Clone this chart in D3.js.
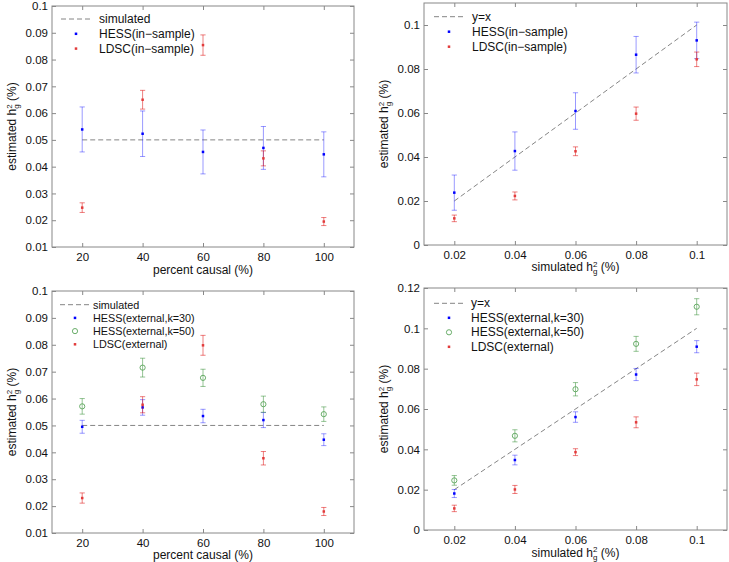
<!DOCTYPE html>
<html>
<head>
<meta charset="utf-8">
<script src="https://cdn.jsdelivr.net/npm/d3@7"></script>
<style>
  body { margin: 0; background: #fff; }
  svg { display: block; font-family: "Liberation Sans", Arial, Helvetica, sans-serif; }
</style>
</head>
<body>
<svg id="chart" width="729" height="562"></svg>
<script>
// x 값
const causalPct = [20, 40, 60, 80, 100];
const simH2 = [0.02, 0.04, 0.06, 0.08, 0.1];

// 눈금 라벨
const pctTicks = [20, 40, 60, 80, 100];
const pctTickLabels = ["20", "40", "60", "80", "100"];
const h2Ticks = [0.02, 0.04, 0.06, 0.08, 0.1];
const h2TickLabels = ["0.02", "0.04", "0.06", "0.08", "0.1"];
const yTicksA = [0.01, 0.02, 0.03, 0.04, 0.05, 0.06, 0.07, 0.08, 0.09, 0.1];
const yTickLabelsA = ["0.01", "0.02", "0.03", "0.04", "0.05", "0.06", "0.07", "0.08", "0.09", "0.1"];
const yTicksB = [0, 0.02, 0.04, 0.06, 0.08, 0.1];
const yTickLabelsB = ["0", "0.02", "0.04", "0.06", "0.08", "0.1"];
const yTicksD = [0, 0.02, 0.04, 0.06, 0.08, 0.1, 0.12];
const yTickLabelsD = ["0", "0.02", "0.04", "0.06", "0.08", "0.1", "0.12"];

// 기준선
const simulatedX = [20, 100];
const simulatedY = [0.05, 0.05];
const identityX = [0.02, 0.1];
const identityY = [0.02, 0.1];

// (A) in-sample, percent causal
const hessInPctMean = [0.0539, 0.0523, 0.0455, 0.0470, 0.0446];
const hessInPctErr = [0.0084, 0.0085, 0.0082, 0.0080, 0.0084];
const ldscInPctMean = [0.0247, 0.0650, 0.0854, 0.0431, 0.0195];
const ldscInPctErr = [0.0018, 0.0035, 0.0038, 0.0028, 0.0015];

// (B) in-sample, simulated h2
const hessInH2Mean = [0.0238, 0.0427, 0.0609, 0.0865, 0.0930];
const hessInH2Err = [0.0080, 0.0087, 0.0083, 0.0083, 0.0083];
const ldscInH2Mean = [0.0121, 0.0223, 0.0426, 0.0597, 0.0844];
const ldscInH2Err = [0.0015, 0.0018, 0.0020, 0.0030, 0.0033];

// (C) external, percent causal
const hess30PctMean = [0.0495, 0.0567, 0.0535, 0.0520, 0.0447];
const hess30PctErr = [0.0024, 0.0029, 0.0025, 0.0028, 0.0022];
const hess50PctMean = [0.0571, 0.0715, 0.0677, 0.0579, 0.0542];
const hess50PctErr = [0.0029, 0.0035, 0.0032, 0.0030, 0.0027];
const ldscExPctMean = [0.0230, 0.0577, 0.0798, 0.0378, 0.0180];
const ldscExPctErr = [0.0019, 0.0030, 0.0037, 0.0025, 0.0015];

// (D) external, simulated h2
const hess30H2Mean = [0.0181, 0.0347, 0.0560, 0.0771, 0.0909];
const hess30H2Err = [0.0020, 0.0024, 0.0026, 0.0030, 0.0030];
const hess50H2Mean = [0.0246, 0.0467, 0.0698, 0.0923, 0.1107];
const hess50H2Err = [0.0024, 0.0030, 0.0033, 0.0037, 0.0040];
const ldscExH2Mean = [0.0107, 0.0201, 0.0386, 0.0534, 0.0747];
const ldscExH2Err = [0.0016, 0.0020, 0.0017, 0.0027, 0.0031];

const svg = d3.select("#chart");

const boxColor = "#888";
const styles = {
  hess:   { bar: "#0000ff", barOpacity: 0.4, marker: "dot", fill: "#0000ff" },
  hess50: { bar: "#2e8b2e", barOpacity: 0.5, marker: "circle", fill: "#5aa55a" },
  ldsc:   { bar: "#dd0000", barOpacity: 0.5, marker: "dot", fill: "#e23b3b" }
};

function series(xs, means, errs, style, label) {
  return { points: xs.map((v, i) => ({ x: v, m: means[i], e: errs[i] })), style: styles[style], label: label };
}

// h_g^2 라벨 (위첨자 2, 아래첨자 g 겹쳐서)
function h2Label(text, before) {
  text.append("tspan").text(before + " h");
  text.append("tspan").attr("font-size", 8).attr("dy", -4.5).text("2");
  text.append("tspan").attr("font-size", 8).attr("dx", -4.45).attr("dy", 7.5).text("g");
  text.append("tspan").attr("dy", -3).text(" (%)");
}

function drawMarker(sel, kind, fill, cx, cy) {
  if (kind === "circle") {
    sel.append("circle").attr("cx", cx).attr("cy", cy).attr("r", 2.6)
      .attr("fill", "none").attr("stroke", fill).attr("stroke-width", 0.9);
  } else {
    sel.append("rect").attr("x", cx - 1.25).attr("y", cy - 1.25)
      .attr("width", 2.5).attr("height", 2.5).attr("fill", fill);
  }
}

function drawPanel(p) {
  const g = svg.append("g");
  const b = p.box;
  const x = d3.scaleLinear().domain(p.xDomain).range([b.x0, b.x1]);
  const y = d3.scaleLinear().domain(p.yDomain).range([b.y1, b.y0]);

  // 축 (눈금 안쪽)
  const axes = [
    { axis: d3.axisBottom(x).tickValues(p.xTicks).tickFormat((d, i) => p.xTickLabels[i]).tickPadding(6), t: `translate(0,${b.y1})` },
    { axis: d3.axisTop(x).tickValues(p.xTicks).tickFormat(""), t: `translate(0,${b.y0})` },
    { axis: d3.axisLeft(y).tickValues(p.yTicks).tickFormat((d, i) => p.yTickLabels[i]).tickPadding(4), t: `translate(${b.x0},0)` },
    { axis: d3.axisRight(y).tickValues(p.yTicks).tickFormat(""), t: `translate(${b.x1},0)` }
  ];
  axes.forEach(a => {
    const ag = g.append("g").attr("transform", a.t)
      .call(a.axis.tickSize(-4).tickSizeOuter(0));
    ag.select(".domain").remove();
    ag.selectAll(".tick line").attr("stroke", boxColor);
    ag.selectAll(".tick text").attr("font-size", 11.5).attr("fill", "#111")
      .attr("font-family", "Liberation Sans, Arial, sans-serif");
  });

  g.append("rect")
    .attr("x", b.x0).attr("y", b.y0)
    .attr("width", b.x1 - b.x0).attr("height", b.y1 - b.y0)
    .attr("fill", "none").attr("stroke", boxColor).attr("stroke-width", 1);

  // 기준선
  const line = d3.line().x(d => x(d[0])).y(d => y(d[1]));
  g.append("path")
    .datum(p.refX.map((v, i) => [v, p.refY[i]]))
    .attr("d", line)
    .attr("fill", "none")
    .attr("stroke", "#777")
    .attr("stroke-width", 0.9)
    .attr("stroke-dasharray", "5,3");

  // 오차막대 + 점
  p.series.forEach(s => {
    const sg = g.append("g");
    const bars = sg.append("g")
      .attr("stroke", s.style.bar)
      .attr("stroke-opacity", s.style.barOpacity)
      .attr("stroke-width", 1);
    s.points.forEach(d => {
      const cx = x(d.x), yt = y(d.m + d.e), yb = y(d.m - d.e);
      bars.append("line").attr("x1", cx).attr("x2", cx).attr("y1", yt).attr("y2", yb);
      bars.append("line").attr("x1", cx - 2.6).attr("x2", cx + 2.6).attr("y1", yt).attr("y2", yt);
      bars.append("line").attr("x1", cx - 2.6).attr("x2", cx + 2.6).attr("y1", yb).attr("y2", yb);
    });
    s.points.forEach(d => drawMarker(sg, s.style.marker, s.style.fill, x(d.x), y(d.m)));
  });

  // 범례
  const L = p.legend;
  const lg = g.append("g").attr("font-size", L.size).attr("fill", "#111");
  lg.append("line")
    .attr("x1", L.lx).attr("x2", L.lx + 29).attr("y1", L.ly).attr("y2", L.ly)
    .attr("stroke", "#777").attr("stroke-width", 0.9).attr("stroke-dasharray", "5,3");
  lg.append("text").attr("x", L.tx).attr("y", L.ly + 4).text(p.refLabel);
  p.series.forEach((s, i) => {
    const ry = L.ly + L.dy * (i + 1);
    drawMarker(lg, s.style.marker, s.style.fill, L.lx + 15, ry);
    lg.append("text").attr("x", L.tx).attr("y", ry + 4).text(s.label);
  });

  // 축 라벨
  const xl = g.append("text")
    .attr("x", (b.x0 + b.x1) / 2).attr("y", p.xLabelY)
    .attr("text-anchor", "middle").attr("font-size", 12).attr("fill", "#111");
  if (p.xLabel) xl.text(p.xLabel); else h2Label(xl, "simulated");

  const yl = g.append("text")
    .attr("transform", `translate(${p.yLabelX},${(b.y0 + b.y1) / 2}) rotate(-90)`)
    .attr("text-anchor", "middle").attr("font-size", 12).attr("fill", "#111");
  h2Label(yl, "estimated");
}

drawPanel({
  box: { x0: 52, x1: 354, y0: 6, y1: 247 },
  xDomain: [10, 110], yDomain: [0.01, 0.1],
  xTicks: pctTicks, xTickLabels: pctTickLabels,
  yTicks: yTicksA, yTickLabels: yTickLabelsA,
  refX: simulatedX, refY: simulatedY, refLabel: "simulated",
  series: [
    series(causalPct, hessInPctMean, hessInPctErr, "hess", "HESS(in\u2212sample)"),
    series(causalPct, ldscInPctMean, ldscInPctErr, "ldsc", "LDSC(in\u2212sample)")
  ],
  legend: { lx: 61, tx: 99, ly: 19, dy: 14.8, size: 12 },
  xLabel: "percent causal (%)", xLabelY: 274, yLabelX: 16
});

drawPanel({
  box: { x0: 424, x1: 727, y0: 3, y1: 245 },
  xDomain: [0.01, 0.11], yDomain: [0, 0.11],
  xTicks: h2Ticks, xTickLabels: h2TickLabels,
  yTicks: yTicksB, yTickLabels: yTickLabelsB,
  refX: identityX, refY: identityY, refLabel: "y=x",
  series: [
    series(simH2, hessInH2Mean, hessInH2Err, "hess", "HESS(in\u2212sample)"),
    series(simH2, ldscInH2Mean, ldscInH2Err, "ldsc", "LDSC(in\u2212sample)")
  ],
  legend: { lx: 434, tx: 472, ly: 16.7, dy: 15, size: 12 },
  xLabel: null, xLabelY: 271, yLabelX: 388
});

drawPanel({
  box: { x0: 52, x1: 354, y0: 291, y1: 533 },
  xDomain: [10, 110], yDomain: [0.01, 0.1],
  xTicks: pctTicks, xTickLabels: pctTickLabels,
  yTicks: yTicksA, yTickLabels: yTickLabelsA,
  refX: simulatedX, refY: simulatedY, refLabel: "simulated",
  series: [
    series(causalPct, hess30PctMean, hess30PctErr, "hess", "HESS(external,k=30)"),
    series(causalPct, hess50PctMean, hess50PctErr, "hess50", "HESS(external,k=50)"),
    series(causalPct, ldscExPctMean, ldscExPctErr, "ldsc", "LDSC(external)")
  ],
  legend: { lx: 60, tx: 93, ly: 304.7, dy: 13.2, size: 10.8 },
  xLabel: "percent causal (%)", xLabelY: 559, yLabelX: 16
});

drawPanel({
  box: { x0: 424, x1: 727, y0: 288, y1: 530 },
  xDomain: [0.01, 0.11], yDomain: [0, 0.12],
  xTicks: h2Ticks, xTickLabels: h2TickLabels,
  yTicks: yTicksD, yTickLabels: yTickLabelsD,
  refX: identityX, refY: identityY, refLabel: "y=x",
  series: [
    series(simH2, hess30H2Mean, hess30H2Err, "hess", "HESS(external,k=30)"),
    series(simH2, hess50H2Mean, hess50H2Err, "hess50", "HESS(external,k=50)"),
    series(simH2, ldscExH2Mean, ldscExH2Err, "ldsc", "LDSC(external)")
  ],
  legend: { lx: 434, tx: 471, ly: 303.3, dy: 14.5, size: 12 },
  xLabel: null, xLabelY: 556.5, yLabelX: 388
});
</script>
</body>
</html>
